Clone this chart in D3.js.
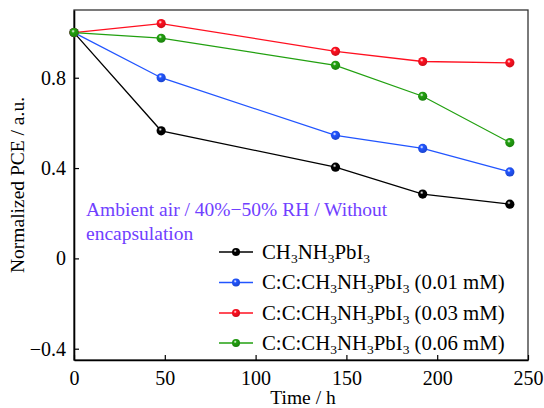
<!DOCTYPE html>
<html lang="en">
<head>
<meta charset="utf-8">
<title>Normalized PCE vs time</title>
<script src="https://d3js.org/d3.v7.min.js"></script>
<style>
  body { margin: 0; background: #fff; }
  svg { font-family: "Liberation Serif", "Times New Roman", serif; }
  .tick text { font-size: 20px; fill: #000; }
  .lab { font-size: 19.5px; }
  .leg { font-size: 20.8px; }
</style>
</head>
<body>
<svg width="544" height="408"></svg>
<script>
// data
const hours = [0, 48, 144, 192, 240];
const pristine = [1.0, 0.565, 0.404, 0.285, 0.24];
const c001 = [1.0, 0.80, 0.545, 0.487, 0.383];
const c003 = [1.0, 1.04, 0.917, 0.872, 0.866];
const c006 = [1.0, 0.975, 0.855, 0.718, 0.513];
const seriesNames = ["", "C:C:", "C:C:", "C:C:"];
const seriesSuffix = ["", " (0.01 mM)", " (0.03 mM)", " (0.06 mM)"];
const colors = ["#000000", "#2255ff", "#ff1020", "#22a010"];
const xTicks = [0, 50, 100, 150, 200, 250];
const yTicks = [-0.4, 0, 0.4, 0.8];

const series = [pristine, c001, c003, c006];

const svg = d3.select("svg");
const pl = 74, pr = 528, pt = 10, pb = 360;

const x = d3.scaleLinear().domain([0, 250]).range([pl, pr]);
const y = d3.scaleLinear().domain([-0.45, 1.1]).range([pb, pt]);

// sphere-like markers
const defs = svg.append("defs");
colors.forEach((c, i) => {
  const g = defs.append("radialGradient").attr("id", "ball" + i)
    .attr("cx", "40%").attr("cy", "35%").attr("r", "65%");
  g.append("stop").attr("offset", "0%").attr("stop-color", "#fff");
  g.append("stop").attr("offset", "30%").attr("stop-color", c);
  g.append("stop").attr("offset", "100%").attr("stop-color", d3.color(c).darker(0.6));
});

// frame
svg.append("rect")
  .attr("x", pl).attr("y", pt)
  .attr("width", pr - pl).attr("height", pb - pt)
  .attr("fill", "none").attr("stroke", "#333").attr("stroke-width", 1.3);

// axes with inward ticks
const xAxis = svg.append("g").attr("transform", `translate(0,${pb})`)
  .call(d3.axisBottom(x).tickValues(xTicks).tickSizeInner(-5).tickSizeOuter(0).tickPadding(9));
const yAxis = svg.append("g").attr("transform", `translate(${pl},0)`)
  .call(d3.axisLeft(y).tickValues(yTicks).tickSizeInner(-5).tickSizeOuter(0).tickPadding(8)
    .tickFormat(d => d === 0 ? "0" : d3.format(".1f")(d).replace("-", "\u2212")));
[xAxis, yAxis].forEach(a => {
  a.select(".domain").attr("stroke", "#000").attr("stroke-width", 1.6);
  a.selectAll(".tick line").attr("stroke", "#000").attr("stroke-width", 1.2);
  a.attr("font-family", null).attr("font-size", null);
});
xAxis.selectAll(".tick text").attr("dy", "0.8em");

// axis titles
svg.append("text").attr("class", "lab")
  .attr("x", 303).attr("y", 404)
  .attr("text-anchor", "middle").text("Time / h");
svg.append("text").attr("class", "lab")
  .attr("transform", `translate(24,${(pt + pb) / 2}) rotate(-90)`)
  .attr("text-anchor", "middle").text("Normalized PCE / a.u.");

// lines and markers
const line = d3.line().x((d, i) => x(hours[i])).y(d => y(d));
series.forEach((s, k) => {
  svg.append("path").attr("d", line(s))
    .attr("fill", "none").attr("stroke", colors[k]).attr("stroke-width", 1.3);
  svg.selectAll(null).data(s).enter().append("circle")
    .attr("cx", (d, i) => x(hours[i])).attr("cy", d => y(d))
    .attr("r", 4.6).attr("fill", `url(#ball${k})`);
});

// annotation
const note = svg.append("text").attr("class", "lab").attr("fill", "#7040ff");
note.append("tspan").attr("x", 86).attr("y", 216).text("Ambient air / 40%\u221250% RH / Without");
note.append("tspan").attr("x", 86).attr("y", 240).text("encapsulation");

// legend
const legY = [252, 282.5, 313, 343];
series.forEach((s, k) => {
  const ly = legY[k];
  svg.append("line").attr("x1", 219).attr("x2", 253).attr("y1", ly).attr("y2", ly)
    .attr("stroke", colors[k]).attr("stroke-width", 1.3);
  svg.append("circle").attr("cx", 236).attr("cy", ly).attr("r", 4).attr("fill", `url(#ball${k})`);
  const t = svg.append("text").attr("class", "leg").attr("x", 262).attr("y", ly + 6.5);
  t.append("tspan").text(seriesNames[k] + "CH");
  t.append("tspan").attr("font-size", "13.5px").attr("dy", 4).text("3");
  t.append("tspan").attr("dy", -4).text("NH");
  t.append("tspan").attr("font-size", "13.5px").attr("dy", 4).text("3");
  t.append("tspan").attr("dy", -4).text("PbI");
  t.append("tspan").attr("font-size", "13.5px").attr("dy", 4).text("3");
  t.append("tspan").attr("dy", -4).text(seriesSuffix[k]);
});
</script>
</body>
</html>
